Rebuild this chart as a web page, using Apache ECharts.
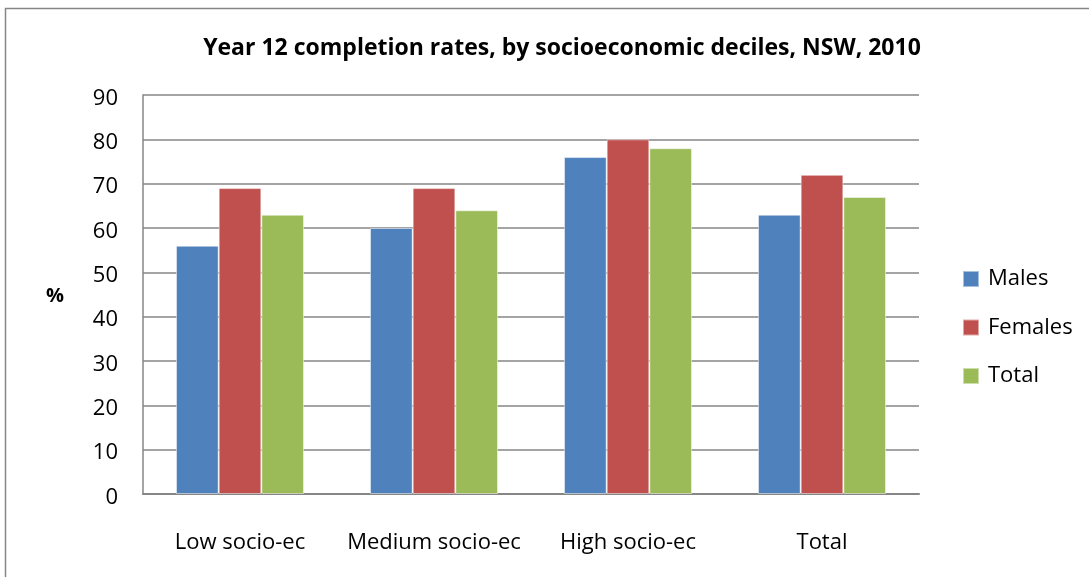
<!DOCTYPE html>
<html><head><meta charset="utf-8">
<script src="https://cdn.jsdelivr.net/npm/echarts@6/dist/echarts.min.js"></script>
<style>html,body{margin:0;padding:0;background:#fff}#c{width:1089px;height:577px}</style>
</head><body><div id="c"></div>
<script>
const categories = ['Low socio-ec', 'Medium socio-ec', 'High socio-ec', 'Total'];
const males = [56, 60, 76, 63];
const females = [69, 69, 80, 72];
const total = [63, 64, 78, 67];
const seriesNames = ['Males', 'Females', 'Total'];
const colors = ['#4F81BD', '#C0504D', '#9BBB59'];

const font = 'Open Sans';
const chart = echarts.init(document.getElementById('c'), null, {renderer: 'canvas'});
const mk = (name, data, i) => ({
  name, type: 'bar', data, barGap: '0%', barCategoryGap: '34%',
  itemStyle: {color: colors[i], borderColor: 'rgba(255,255,255,0.5)', borderWidth: 1},
  emphasis: {disabled: true}
});
chart.setOption({
  animation: false,
  title: {
    text: 'Year 12 completion rates, by socioeconomic deciles, NSW, 2010',
    left: 557, top: 32, textAlign: 'center',
    textStyle: {fontFamily: font, fontWeight: 'bold', fontSize: 23, color: '#000'}
  },
  graphic: [
    {type: 'rect', shape: {x: 5.5, y: 8.5, width: 1200, height: 700}, style: {fill: 'none', stroke: '#868686', lineWidth: 1.5}, silent: true},
    {type: 'text', left: 46, top: 286, style: {text: '%', fontFamily: font, fontWeight: 'bold', fontSize: 20, fill: '#000'}}
  ],
  legend: {
    orient: 'vertical', left: 962, top: 268, itemGap: 26.5, itemWidth: 16, itemHeight: 16,
    padding: 0, icon: 'rect', data: seriesNames,
    textStyle: {fontFamily: font, fontSize: 22, color: '#000', padding: [0, 0, 0, 4]}
  },
  grid: {left: 143, right: 170, top: 95, bottom: 83},
  xAxis: {
    type: 'category', data: categories,
    axisLine: {lineStyle: {color: '#868686', width: 2}},
    axisTick: {show: false},
    axisLabel: {fontFamily: font, fontSize: 22, color: '#000', margin: 38, interval: 0}
  },
  yAxis: {
    type: 'value', min: 0, max: 90, interval: 10,
    axisLine: {show: true, lineStyle: {color: '#868686', width: 1.5}},
    axisTick: {show: false},
    splitLine: {lineStyle: {color: '#868686', width: 1.5}},
    axisLabel: {
      margin: 25, formatter: '{a|{value}}',
      rich: {a: {fontFamily: font, fontSize: 22, color: '#000', padding: [7, 0, 0, 0]}}
    }
  },
  series: [mk('Males', males, 0), mk('Females', females, 1), mk('Total', total, 2)]
});
</script></body></html>
